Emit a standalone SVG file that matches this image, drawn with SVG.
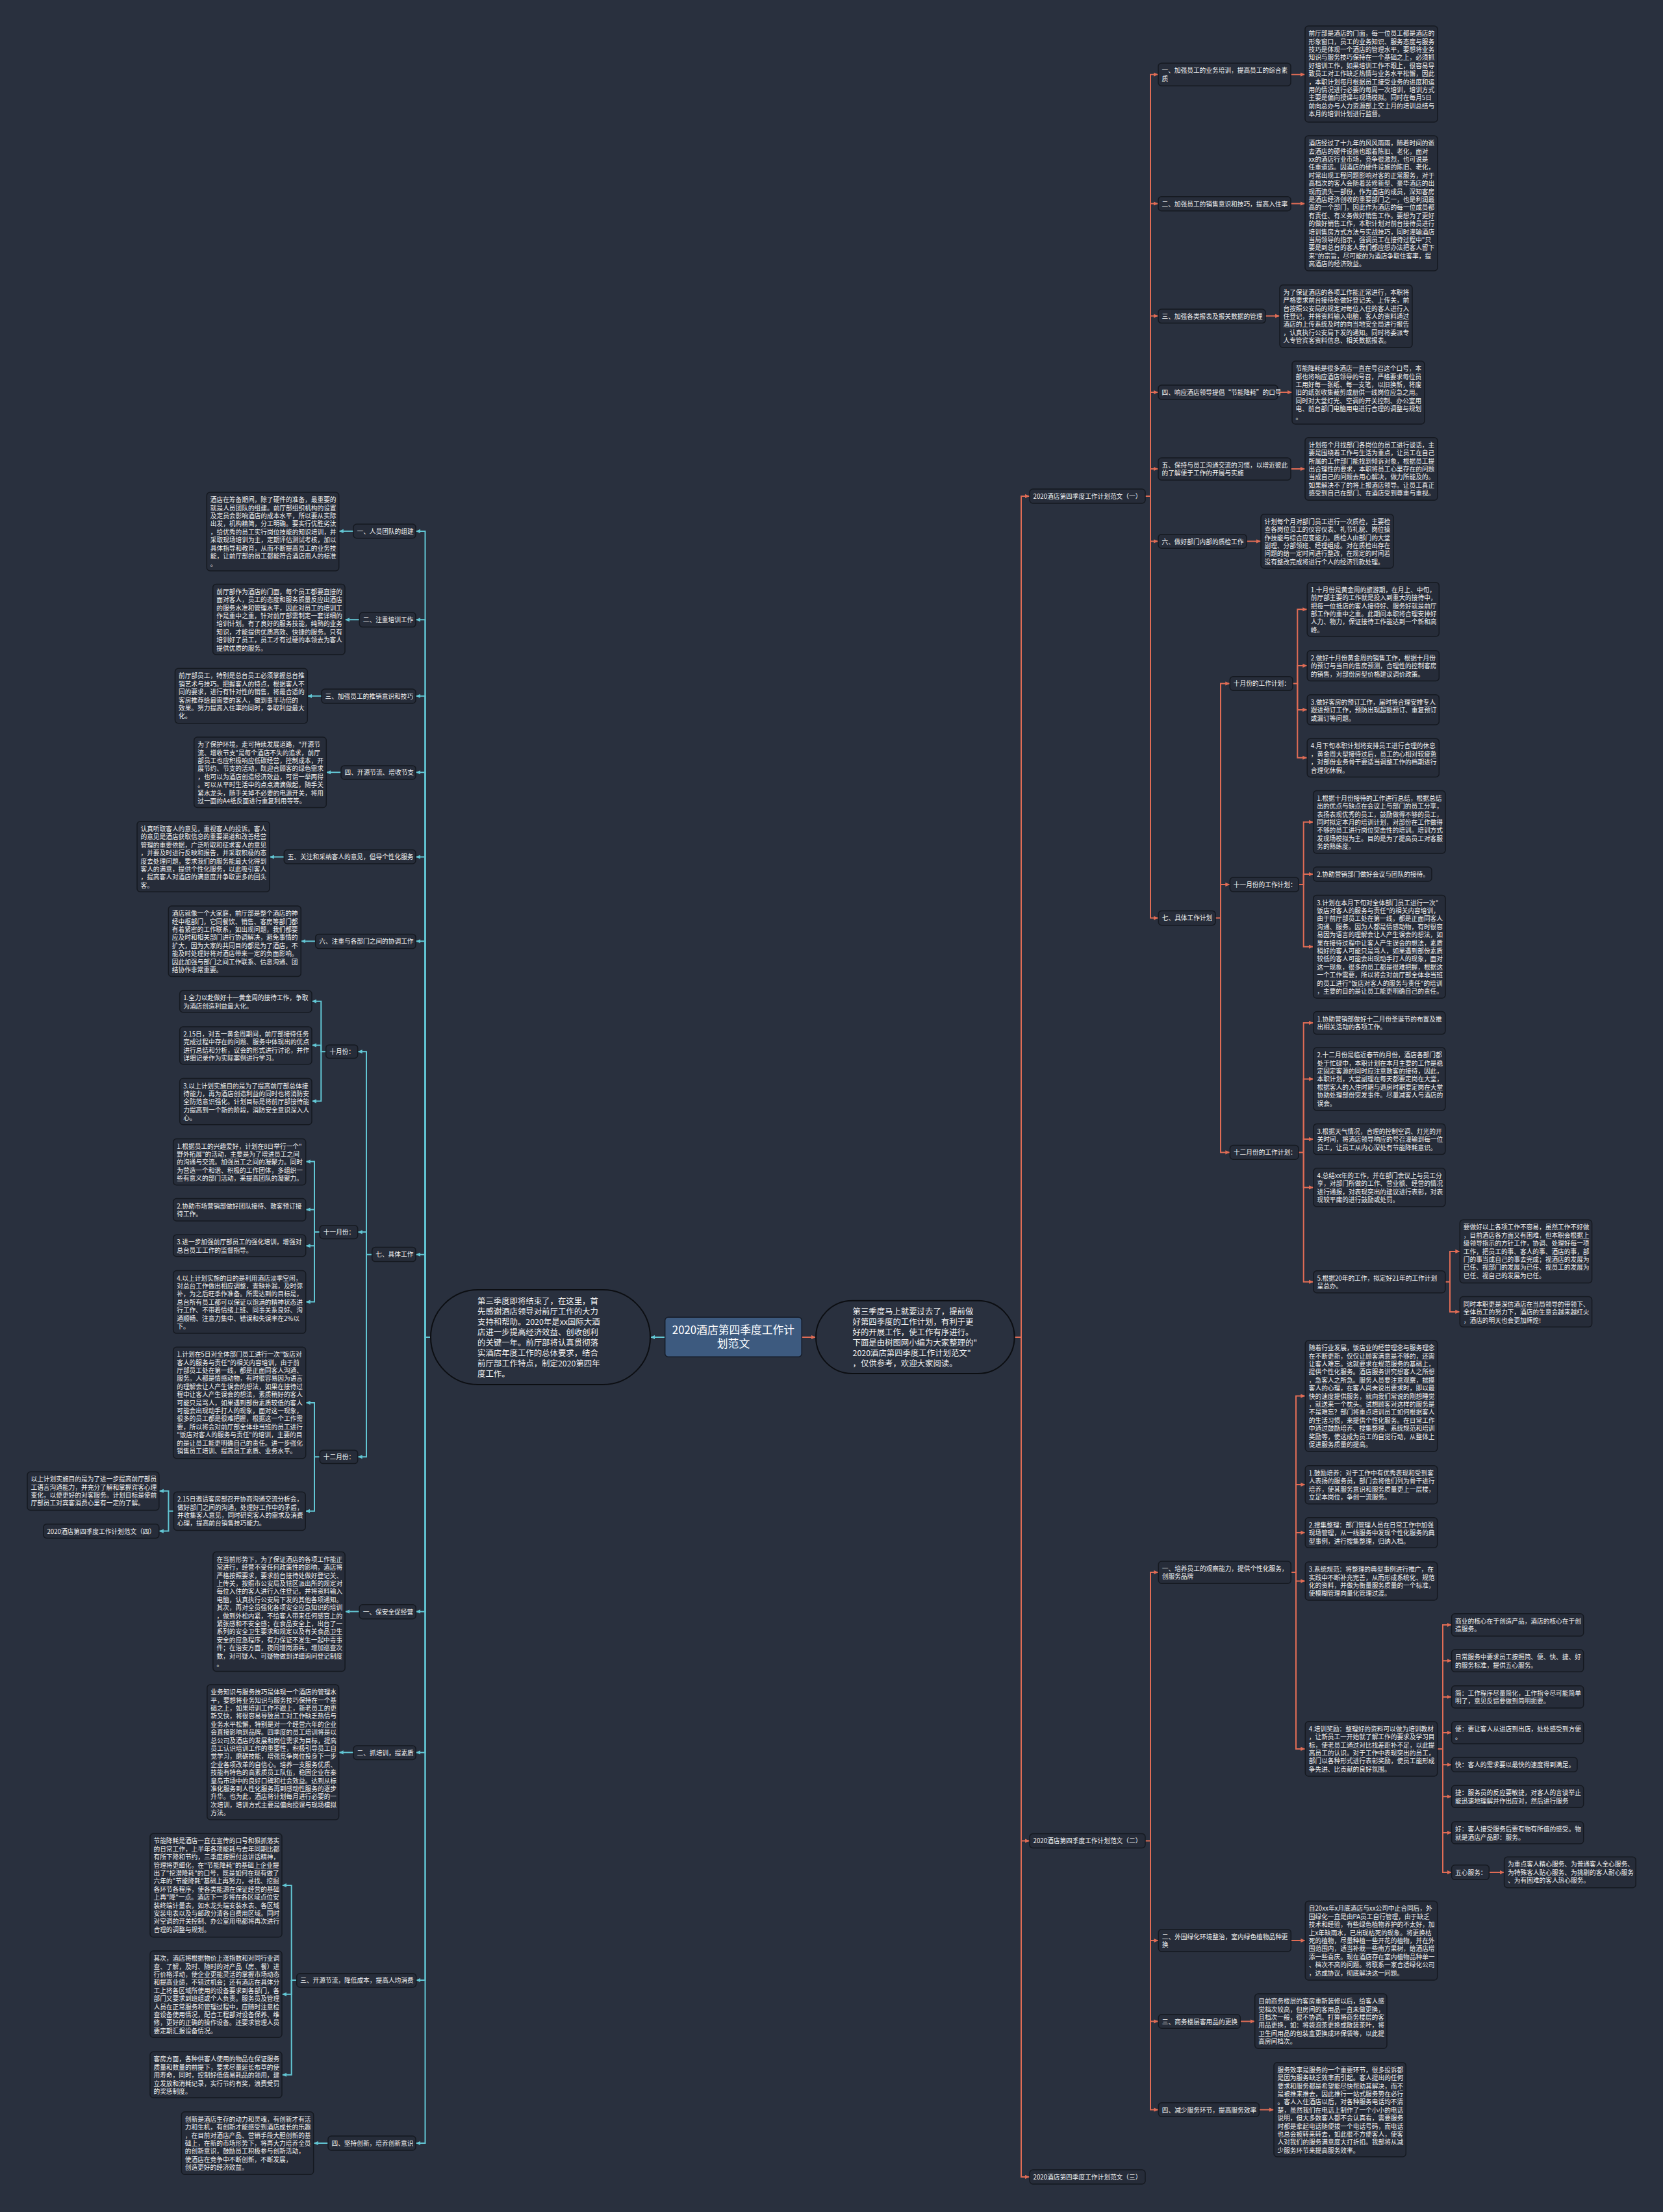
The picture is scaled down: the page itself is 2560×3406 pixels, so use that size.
<svg xmlns="http://www.w3.org/2000/svg" width="2560" height="3406" viewBox="0 0 2560 3406">
<defs>
<style>
.b{fill:#262c39;stroke:#151920;stroke-width:1.5}
.t{font-family:"Noto Sans CJK SC","Noto Sans CJK JP",sans-serif;font-size:9.7px;fill:#f2f2f2}
.bt{font-family:"Noto Sans CJK SC","Noto Sans CJK JP",sans-serif;font-size:12.4px;fill:#f2f2f2}
.o{fill:none;stroke:#e06c55;stroke-width:2;marker-end:url(#ao)}
.c{fill:none;stroke:#62c6d4;stroke-width:2;marker-end:url(#ac)}
.bub{fill:#29303e;stroke:#0c0e12;stroke-width:2}
</style>
<marker id="ao" viewBox="0 0 8 8" refX="8" refY="4" markerWidth="7" markerHeight="7" markerUnits="userSpaceOnUse" orient="auto"><path d="M0,0.5L8,4L0,7.5z" fill="#e06c55"/></marker>
<marker id="ac" viewBox="0 0 8 8" refX="8" refY="4" markerWidth="7" markerHeight="7" markerUnits="userSpaceOnUse" orient="auto"><path d="M0,0.5L8,4L0,7.5z" fill="#62c6d4"/></marker>
</defs>
<rect width="2560" height="3406" fill="#29303e"/>

<g id="connectors">
<path class="o" d="M1234.2,2059H1256"/>
<path class="c" d="M1023.7,2059H1001"/>
<path class="o" d="M1561.6,2059H1572V764H1585"/>
<path class="o" d="M1572,2059V2834.5H1585"/>
<path class="o" d="M1572,2059V3352H1585"/>
<path class="o" d="M1763,764H1771V114.8H1783"/>
<path class="o" d="M1771,764V313.5H1783"/>
<path class="o" d="M1771,764V486.5H1783"/>
<path class="o" d="M1771,764V604H1783"/>
<path class="o" d="M1771,764V722H1783"/>
<path class="o" d="M1771,764V833.5H1783"/>
<path class="o" d="M1771,764V1413.6H1783"/>
<path class="o" d="M1987,114.8H2009"/>
<path class="o" d="M1987,313.5H2009"/>
<path class="o" d="M1948,486.5H1970"/>
<path class="o" d="M1967,604H1989"/>
<path class="o" d="M1987,722H2009"/>
<path class="o" d="M1919,833.5H1941"/>
<path class="o" d="M1871,1413.6H1879V1052.5H1893.3"/>
<path class="o" d="M1879,1413.6V1362H1893.3"/>
<path class="o" d="M1879,1413.6V1774.4H1893.4"/>
<path class="o" d="M1990,1052.5H1997.3V938.3H2012.3"/>
<path class="o" d="M1997.3,1052.5V1025H2012.3"/>
<path class="o" d="M1997.3,1052.5V1092.9H2012.3"/>
<path class="o" d="M1997.3,1052.5V1166.8H2012.3"/>
<path class="o" d="M1999.3,1362H2006.7V1265.7H2021.7"/>
<path class="o" d="M2006.7,1362V1346H2021.7"/>
<path class="o" d="M2006.7,1362V1457.8H2021.7"/>
<path class="o" d="M1999,1774.4H2006.7V1575H2022"/>
<path class="o" d="M2006.7,1774.4V1661.4H2022"/>
<path class="o" d="M2006.7,1774.4V1754.1H2022"/>
<path class="o" d="M2006.7,1774.4V1828.4H2022"/>
<path class="o" d="M2006.7,1774.4V1973.8H2022"/>
<path class="o" d="M2224.8,1973.8H2232V1926.9H2247.3"/>
<path class="o" d="M2232,1973.8V2019.9H2247.3"/>
<path class="o" d="M1763,2834.5H1771V2421H1783.3"/>
<path class="o" d="M1771,2834.5V2988H1783.3"/>
<path class="o" d="M1771,2834.5V3112.5H1783.3"/>
<path class="o" d="M1771,2834.5V3248.5H1783.3"/>
<path class="o" d="M1987.3,2421H1995V2149.5H2009.3"/>
<path class="o" d="M1995,2421V2286H2009.3"/>
<path class="o" d="M1995,2421V2360H2009.3"/>
<path class="o" d="M1995,2421V2434.5H2009.3"/>
<path class="o" d="M1995,2421V2692.9H2009.3"/>
<path class="o" d="M2212.7,2692.9H2221V2502H2234.6"/>
<path class="o" d="M2221,2692.9V2557.2H2234.6"/>
<path class="o" d="M2221,2692.9V2612.9H2234.6"/>
<path class="o" d="M2221,2692.9V2667.9H2234.6"/>
<path class="o" d="M2221,2692.9V2717.2H2234.6"/>
<path class="o" d="M2221,2692.9V2766.3H2234.6"/>
<path class="o" d="M2221,2692.9V2822H2234.6"/>
<path class="o" d="M2221,2692.9V2883H2234.6"/>
<path class="o" d="M2292.3,2883H2315.6"/>
<path class="o" d="M1987.3,2988H2009.3"/>
<path class="o" d="M1909.3,3112.5H1931.7"/>
<path class="o" d="M1938.3,3248.5H1961"/>

<path class="c" d="M663,2059H654.5V817.9H640"/>
<path class="c" d="M654.5,2059V954.2H640"/>
<path class="c" d="M654.5,2059V1071.7H640"/>
<path class="c" d="M654.5,2059V1189.2H640"/>
<path class="c" d="M654.5,2059V1319.5H640"/>
<path class="c" d="M654.5,2059V1449.3H640"/>
<path class="c" d="M654.5,2059V1931.7H640"/>
<path class="c" d="M654.5,2059V2481.4H640"/>
<path class="c" d="M654.5,2059V2698.4H640"/>
<path class="c" d="M654.5,2059V3049H640"/>
<path class="c" d="M654.5,2059V3300H640"/>
<path class="c" d="M544,817.9H521.7"/>
<path class="c" d="M553.3,954.2H531"/>
<path class="c" d="M495,1071.7H473.3"/>
<path class="c" d="M525,1189.2H502.3"/>
<path class="c" d="M437.3,1319.5H415"/>
<path class="c" d="M485.7,1449.3H463.3"/>
<path class="c" d="M572.7,1931.7H564V1619.2H550.7"/>
<path class="c" d="M564,1931.7V1897.1H550.7"/>
<path class="c" d="M564,1931.7V2243.2H550.7"/>
<path class="c" d="M501.7,1619.2H494.3V1541.7H480"/>
<path class="c" d="M494.3,1619.2V1609.4H480"/>
<path class="c" d="M494.3,1619.2V1695.6H480"/>
<path class="c" d="M492.3,1897.1H484V1788.6H470.7"/>
<path class="c" d="M484,1897.1V1862.5H470.7"/>
<path class="c" d="M484,1897.1V1918.3H470.7"/>
<path class="c" d="M484,1897.1V2004.6H470.7"/>
<path class="c" d="M492.3,2243.2H484V2160H470.7"/>
<path class="c" d="M484,2243.2V2326.8H470.2"/>
<path class="c" d="M267.4,2326.8H259.4V2295.8H244.8"/>
<path class="c" d="M259.4,2326.8V2357.6H244.8"/>
<path class="c" d="M553.2,2481.4H531.1"/>
<path class="c" d="M544.1,2698.4H521.6"/>
<path class="c" d="M456.7,3049H448.7V2903H434"/>
<path class="c" d="M448.7,3049V3070.7H434"/>
<path class="c" d="M448.7,3049V3194.7H434"/>
<path class="c" d="M505,3300H482.7"/>
</g>

<g id="center">
<rect x="1023.7" y="2028.3" width="210.5" height="61" rx="5" fill="#3d5a7f" stroke="#151b26" stroke-width="1.5"/>
<text x="1129" y="2054" text-anchor="middle" font-family="Noto Sans CJK SC, sans-serif" font-size="16.8" fill="#ffffff"><tspan x="1129">2020酒店第四季度工作计</tspan><tspan x="1129" dy="21.3">划范文</tspan></text>
</g>

<g id="intro-left">
<rect class="bub" x="663" y="1986" width="338" height="146" rx="73"/>
<text class="bt" y="2007.5"><tspan x="735">第三季度即将结束了，在这里，首</tspan><tspan x="735" dy="16">先感谢酒店领导对前厅工作的大力</tspan><tspan x="735" dy="16">支持和帮助。2020年是xx国际大酒</tspan><tspan x="735" dy="16">店进一步提高经济效益、创收创利</tspan><tspan x="735" dy="16">的关键一年。前厅部将认真贯彻落</tspan><tspan x="735" dy="16">实酒店年度工作的总体要求，结合</tspan><tspan x="735" dy="16">前厅部工作特点，制定2020第四年</tspan><tspan x="735" dy="16">度工作。</tspan></text>
</g>

<g id="intro-right">
<rect class="bub" x="1256" y="2002.7" width="305.6" height="112.3" rx="56"/>
<text class="bt" y="2023.5"><tspan x="1312.5">第三季度马上就要过去了，提前做</tspan><tspan x="1312.5" dy="16">好第四季度的工作计划，有利于更</tspan><tspan x="1312.5" dy="16">好的开展工作，使工作有序进行。</tspan><tspan x="1312.5" dy="16">下面是由树图网小编为大家整理的"</tspan><tspan x="1312.5" dy="16">2020酒店第四季度工作计划范文"</tspan><tspan x="1312.5" dy="16">，仅供参考，欢迎大家阅读。</tspan></text>
</g>

<!-- Right (一) -->
<g id="p1" transform="translate(1585,753)"><rect class="b" width="178" height="22" rx="5"/><text class="t" y="14.9"><tspan x="5.5">2020酒店第四季度工作计划范文（一）</tspan></text></g>
<g id="r1" transform="translate(1783,97.3)"><rect class="b" width="204" height="35" rx="5"/><text class="t" y="15.2"><tspan x="5.5">一、加强员工的业务培训，提高员工的综合素</tspan><tspan x="5.5" dy="12.2">质</tspan></text></g>
<g id="r1b" transform="translate(2009,40)"><rect class="b" width="204" height="148" rx="5"/><text class="t" y="15.2"><tspan x="5.5">前厅部是酒店的门面，每一位员工都是酒店的</tspan><tspan x="5.5" dy="12.4">形象窗口，员工的业务知识、服务态度与服务</tspan><tspan x="5.5" dy="12.4">技巧是体现一个酒店的管理水平，要想将业务</tspan><tspan x="5.5" dy="12.4">知识与服务技巧保持在一个基础之上，必须抓</tspan><tspan x="5.5" dy="12.4">好培训工作，如果培训工作不跟上，很容易导</tspan><tspan x="5.5" dy="12.4">致员工对工作缺乏热情与业务水平松懈，因此</tspan><tspan x="5.5" dy="12.4">，本职计划每月根据员工接受业务的进度和运</tspan><tspan x="5.5" dy="12.4">用的情况进行必要的每周一次培训，培训方式</tspan><tspan x="5.5" dy="12.4">主要是偏向授课与现场模拟。同时在每月5日</tspan><tspan x="5.5" dy="12.4">前向总办与人力资源部上交上月的培训总结与</tspan><tspan x="5.5" dy="12.4">本月的培训计划进行监督。</tspan></text></g>
<g id="r2" transform="translate(1783,302.7)"><rect class="b" width="204" height="22" rx="5"/><text class="t" y="14.9"><tspan x="5.5">二、加强员工的销售意识和技巧，提高入住率</tspan></text></g>
<g id="r2b" transform="translate(2009,209)"><rect class="b" width="204" height="208" rx="5"/><text class="t" y="15.2"><tspan x="5.5">酒店经过了十九年的风风雨雨，随着时间的逝</tspan><tspan x="5.5" dy="12.4">去酒店的硬件设施也跟着陈旧、老化，面对</tspan><tspan x="5.5" dy="12.4">xx的酒店行业市场，竞争很激烈，也可说是</tspan><tspan x="5.5" dy="12.4">任重道远。因酒店的硬件设施的陈旧、老化，</tspan><tspan x="5.5" dy="12.4">时常出现工程问题影响对客的正常服务，对于</tspan><tspan x="5.5" dy="12.4">高档次的客人会随着装修新型、豪华酒店的出</tspan><tspan x="5.5" dy="12.4">现而流失一部份，作为酒店的成员，深知客房</tspan><tspan x="5.5" dy="12.4">是酒店经济创收的重要部门之一，也是利润最</tspan><tspan x="5.5" dy="12.4">高的一个部门，因此作为酒店的每一位成员都</tspan><tspan x="5.5" dy="12.4">有责任、有义务做好销售工作。要想为了更好</tspan><tspan x="5.5" dy="12.4">的做好销售工作，本职计划对前台接待员进行</tspan><tspan x="5.5" dy="12.4">培训售房方式方法与实战技巧，同时灌输酒店</tspan><tspan x="5.5" dy="12.4">当局领导的指示，强调员工在接待过程中"只</tspan><tspan x="5.5" dy="12.4">要是到总台的客人我们都应想办法把客人留下</tspan><tspan x="5.5" dy="12.4">来"的宗旨，尽可能的为酒店争取住客率，提</tspan><tspan x="5.5" dy="12.4">高酒店的经济效益。</tspan></text></g>
<g id="r3" transform="translate(1783,476)"><rect class="b" width="165" height="21.6" rx="5"/><text class="t" y="14.9"><tspan x="5.5">三、加强各类报表及报关数据的管理</tspan></text></g>
<g id="r3b" transform="translate(1970,438.7)"><rect class="b" width="204" height="96.6" rx="5"/><text class="t" y="15.2"><tspan x="5.5">为了保证酒店的各项工作能正常进行，本职将</tspan><tspan x="5.5" dy="12.4">严格要求前台接待处做好登记关、上传关，前</tspan><tspan x="5.5" dy="12.4">台按照公安局的规定对每位入住的客人进行入</tspan><tspan x="5.5" dy="12.4">住登记，并将资料输入电脑，客人的资料通过</tspan><tspan x="5.5" dy="12.4">酒店的上传系统及时的向当地安全局进行报告</tspan><tspan x="5.5" dy="12.4">，认真执行公安局下发的通知。同时将委派专</tspan><tspan x="5.5" dy="12.4">人专管宾客资料信息、相关数据报表。</tspan></text></g>
<g id="r4" transform="translate(1783,593)"><rect class="b" width="184" height="22" rx="5"/><text class="t" y="14.9"><tspan x="5.5">四、响应酒店领导提倡“节能降耗”的口号</tspan></text></g>
<g id="r4b" transform="translate(1989,556)"><rect class="b" width="204" height="97" rx="5"/><text class="t" y="15.2"><tspan x="5.5">节能降耗是很多酒店一直在号召这个口号，本</tspan><tspan x="5.5" dy="12.4">部也将响应酒店领导的号召，严格要求每位员</tspan><tspan x="5.5" dy="12.4">工用好每一张纸、每一支笔，以旧换新，将废</tspan><tspan x="5.5" dy="12.4">旧的纸张收集裁剪成册供一线岗位应急之用。</tspan><tspan x="5.5" dy="12.4">同时对大堂灯光、空调的开关控制、办公室用</tspan><tspan x="5.5" dy="12.4">电、前台部门电脑用电进行合理的调整与规划</tspan><tspan x="5.5" dy="12.4">。</tspan></text></g>
<g id="r5" transform="translate(1783,705)"><rect class="b" width="204" height="34.3" rx="5"/><text class="t" y="15.2"><tspan x="5.5">五、保持与员工沟通交流的习惯，以增近彼此</tspan><tspan x="5.5" dy="12.2">的了解便于工作的开展与实施</tspan></text></g>
<g id="r5b" transform="translate(2009,673.7)"><rect class="b" width="204" height="96.6" rx="5"/><text class="t" y="15.2"><tspan x="5.5">计划每个月找部门各岗位的员工进行谈话，主</tspan><tspan x="5.5" dy="12.4">要是围绕着工作与生活为重点，让员工在自己</tspan><tspan x="5.5" dy="12.4">所属的工作部门能找到倾诉对象，根据员工提</tspan><tspan x="5.5" dy="12.4">出合理性的要求，本职将员工心里存在的问题</tspan><tspan x="5.5" dy="12.4">当成自己的问题去用心解决，做力所能及的。</tspan><tspan x="5.5" dy="12.4">如果解决不了的将上报酒店领导。让员工真正</tspan><tspan x="5.5" dy="12.4">感受到自己在部门、在酒店受到尊重与重视。</tspan></text></g>
<g id="r6" transform="translate(1783,822.7)"><rect class="b" width="136" height="21.6" rx="5"/><text class="t" y="14.9"><tspan x="5.5">六、做好部门内部的质检工作</tspan></text></g>
<g id="r6b" transform="translate(1941,791.7)"><rect class="b" width="204" height="83.3" rx="5"/><text class="t" y="15.2"><tspan x="5.5">计划每个月对部门员工进行一次质检，主要检</tspan><tspan x="5.5" dy="12.4">查各岗位员工的仪容仪表、礼节礼貌、岗位操</tspan><tspan x="5.5" dy="12.4">作技能与综合应变能力。质检人由部门的大堂</tspan><tspan x="5.5" dy="12.4">副理、分部领班、经理组成。对在质检出存在</tspan><tspan x="5.5" dy="12.4">问题的给一定时间进行整改，在规定的时间若</tspan><tspan x="5.5" dy="12.4">没有整改完成将进行个人的经济罚款处理。</tspan></text></g>
<g id="r7" transform="translate(1783.3,1402.4)"><rect class="b" width="87.7" height="22.3" rx="5"/><text class="t" y="15"><tspan x="5.5">七、具体工作计划</tspan></text></g>
<g id="r7-10" transform="translate(1893.3,1041.7)"><rect class="b" width="96.7" height="21.5" rx="5"/><text class="t" y="14.8"><tspan x="5.5">十月份的工作计划：</tspan></text></g>
<g id="r7-10a" transform="translate(2012.3,896.7)"><rect class="b" width="203" height="83.2" rx="5"/><text class="t" y="15.2"><tspan x="5.5">1.十月份是黄金周的旅游期，在月上、中旬，</tspan><tspan x="5.5" dy="12.4">前厅部主要的工作就是投入到重大的接待中，</tspan><tspan x="5.5" dy="12.4">把每一位抵店的客人接待好、服务好就是前厅</tspan><tspan x="5.5" dy="12.4">部工作的重中之重。此期间本职将合理安排好</tspan><tspan x="5.5" dy="12.4">人力、物力，保证接待工作能达到一个新和高</tspan><tspan x="5.5" dy="12.4">峰。</tspan></text></g>
<g id="r7-10b" transform="translate(2012.3,1001.7)"><rect class="b" width="203" height="46.7" rx="5"/><text class="t" y="15.2"><tspan x="5.5">2.做好十月份黄金周的销售工作，根据十月份</tspan><tspan x="5.5" dy="12.4">的预订与当日的售房预测，合理性的控制客房</tspan><tspan x="5.5" dy="12.4">的销售，对部份房型价格建议调价政策。</tspan></text></g>
<g id="r7-10c" transform="translate(2012.3,1069.8)"><rect class="b" width="203" height="46.2" rx="5"/><text class="t" y="15.2"><tspan x="5.5">3.做好客房的预订工作，届时将合理安排专人</tspan><tspan x="5.5" dy="12.4">跟进预订工作，预防出现超额预订、重复预订</tspan><tspan x="5.5" dy="12.4">或漏订等问题。</tspan></text></g>
<g id="r7-10d" transform="translate(2012.3,1137.2)"><rect class="b" width="203" height="59.2" rx="5"/><text class="t" y="15.2"><tspan x="5.5">4.月下旬本职计划将安排员工进行合理的休息</tspan><tspan x="5.5" dy="12.4">，黄金周大型接待过后，员工的心相对较疲惫</tspan><tspan x="5.5" dy="12.4">，对部份业务骨干要适当调整工作的档期进行</tspan><tspan x="5.5" dy="12.4">合理化休假。</tspan></text></g>
<g id="r7-11" transform="translate(1893.3,1351)"><rect class="b" width="106" height="21.9" rx="5"/><text class="t" y="14.9"><tspan x="5.5">十一月份的工作计划：</tspan></text></g>
<g id="r7-11a" transform="translate(2021.7,1217.5)"><rect class="b" width="203.3" height="96.5" rx="5"/><text class="t" y="15.2"><tspan x="5.5">1.根据十月份接待的工作进行总结，根据总结</tspan><tspan x="5.5" dy="12.4">出的优点与缺点在会议上与部门的员工分享，</tspan><tspan x="5.5" dy="12.4">表扬表现优秀的员工，鼓励做得不够的员工，</tspan><tspan x="5.5" dy="12.4">同时拟定本月的培训计划，对部份在工作做得</tspan><tspan x="5.5" dy="12.4">不够的员工进行岗位突击性的培训。培训方式</tspan><tspan x="5.5" dy="12.4">发现场模拟为主。目的是为了提高员工对客服</tspan><tspan x="5.5" dy="12.4">务的熟练度。</tspan></text></g>
<g id="r7-11b" transform="translate(2021.7,1335.1)"><rect class="b" width="182.3" height="21.9" rx="5"/><text class="t" y="14.9"><tspan x="5.5">2.协助营销部门做好会议与团队的接待。</tspan></text></g>
<g id="r7-11c" transform="translate(2021.7,1378.4)"><rect class="b" width="203.3" height="158.6" rx="5"/><text class="t" y="15.2"><tspan x="5.5">3.计划在本月下旬对全体部门员工进行一次"</tspan><tspan x="5.5" dy="12.4">饭店对客人的服务与责任"的相关内容培训，</tspan><tspan x="5.5" dy="12.4">由于前厅部员工处在第一线，都是正面同客人</tspan><tspan x="5.5" dy="12.4">沟通、服务。因为人都是情感动物，有时很容</tspan><tspan x="5.5" dy="12.4">易因为语言的理解会让人产生误会的想法，如</tspan><tspan x="5.5" dy="12.4">果在接待过程中让客人产生误会的想法，素质</tspan><tspan x="5.5" dy="12.4">稍好的客人可能只是骂人，如果遇到部份素质</tspan><tspan x="5.5" dy="12.4">较低的客人可能会出现动手打人的现象，面对</tspan><tspan x="5.5" dy="12.4">这一现象，很多的员工都是很难把握，根据这</tspan><tspan x="5.5" dy="12.4">一个工作需要，所以将会对前厅部全体非当班</tspan><tspan x="5.5" dy="12.4">的员工进行"饭店对客人的服务与责任"的培训</tspan><tspan x="5.5" dy="12.4">，主要的目的是让员工能更明确自己的责任。</tspan></text></g>
<g id="r7-12" transform="translate(1893.4,1763.5)"><rect class="b" width="105.6" height="21.8" rx="5"/><text class="t" y="14.9"><tspan x="5.5">十二月份的工作计划：</tspan></text></g>
<g id="r7-12a" transform="translate(2022,1557.6)"><rect class="b" width="202.8" height="34.8" rx="5"/><text class="t" y="15.2"><tspan x="5.5">1.协助营销部做好十二月份圣诞节的布置及推</tspan><tspan x="5.5" dy="12.4">出相关活动的各项工作。</tspan></text></g>
<g id="r7-12b" transform="translate(2022,1613)"><rect class="b" width="202.8" height="97" rx="5"/><text class="t" y="15.2"><tspan x="5.5">2.十二月份是临近春节的月份，酒店各部门都</tspan><tspan x="5.5" dy="12.4">处于忙碌中，本职计划在本月主要的工作是稳</tspan><tspan x="5.5" dy="12.4">定固定客源的同时应注意散客的接待，因此，</tspan><tspan x="5.5" dy="12.4">本职计划，大堂副理在每天都要定岗在大堂，</tspan><tspan x="5.5" dy="12.4">根据客人的入住时期与退房时期要定岗在大堂</tspan><tspan x="5.5" dy="12.4">协助处理部份突发事件。尽量减客人与酒店的</tspan><tspan x="5.5" dy="12.4">误会。</tspan></text></g>
<g id="r7-12c" transform="translate(2022,1730.6)"><rect class="b" width="202.8" height="47" rx="5"/><text class="t" y="15.2"><tspan x="5.5">3.根据天气情况，合理的控制空调、灯光的开</tspan><tspan x="5.5" dy="12.4">关时间，将酒店领导响应的号召灌输到每一位</tspan><tspan x="5.5" dy="12.4">员工，让员工从内心深处有节能降耗意识。</tspan></text></g>
<g id="r7-12d" transform="translate(2022,1798.7)"><rect class="b" width="202.8" height="59.3" rx="5"/><text class="t" y="15.2"><tspan x="5.5">4.总结xx年的工作，并在部门会议上与员工分</tspan><tspan x="5.5" dy="12.4">享，对部门所做的工作、营业额、经营的情况</tspan><tspan x="5.5" dy="12.4">进行通报，对表现突出的建议进行表彰，对表</tspan><tspan x="5.5" dy="12.4">现较平庸的进行鼓励或处罚。</tspan></text></g>
<g id="r7-12e" transform="translate(2022,1956.7)"><rect class="b" width="202.8" height="34.1" rx="5"/><text class="t" y="15.2"><tspan x="5.5">5.根据20年的工作，拟定好21年的工作计划</tspan><tspan x="5.5" dy="12.4">呈总办。</tspan></text></g>
<g id="r7-12e1" transform="translate(2247.3,1878.3)"><rect class="b" width="203.3" height="97.2" rx="5"/><text class="t" y="15.2"><tspan x="5.5">要做好以上各项工作不容易，虽然工作不好做</tspan><tspan x="5.5" dy="12.4">，目前酒店各方面又有困难，但本职会根据上</tspan><tspan x="5.5" dy="12.4">级领导指示的方针工作，协调、处理好每一项</tspan><tspan x="5.5" dy="12.4">工作，把员工的事、客人的事、酒店的事，部</tspan><tspan x="5.5" dy="12.4">门的事当成自己的事去完成；视酒店的发展为</tspan><tspan x="5.5" dy="12.4">已任、视部门的发展为已任、视员工的发展为</tspan><tspan x="5.5" dy="12.4">已任、视自己的发展为已任。</tspan></text></g>
<g id="r7-12e2" transform="translate(2247.3,1996.5)"><rect class="b" width="203.3" height="46.7" rx="5"/><text class="t" y="15.2"><tspan x="5.5">同时本职更是深信酒店在当局领导的带领下、</tspan><tspan x="5.5" dy="12.4">全体员工的努力下，酒店的生意会越来越红火</tspan><tspan x="5.5" dy="12.4">，酒店的明天也会更加辉煌!</tspan></text></g>

<!-- Right (二) -->
<g id="p2" transform="translate(1585,2823.5)"><rect class="b" width="178" height="22" rx="5"/><text class="t" y="14.9"><tspan x="5.5">2020酒店第四季度工作计划范文（二）</tspan></text></g>
<g id="s1" transform="translate(1783.3,2404)"><rect class="b" width="204" height="34.3" rx="5"/><text class="t" y="15.2"><tspan x="5.5">一、培养员工的观察能力，提供个性化服务，</tspan><tspan x="5.5" dy="12.2">创服务品牌</tspan></text></g>
<g id="s1a" transform="translate(2009.3,2064)"><rect class="b" width="203.4" height="171" rx="5"/><text class="t" y="15.2"><tspan x="5.5">随着行业发展，饭店业的经营理念与服务理念</tspan><tspan x="5.5" dy="12.4">在不断更新，仅仅让顾客满意是不够的，还需</tspan><tspan x="5.5" dy="12.4">让客人难忘。这就要求在规范服务的基础上，</tspan><tspan x="5.5" dy="12.4">提供个性化服务。酒店服务讲究想客人之所想</tspan><tspan x="5.5" dy="12.4">，急客人之所急。服务人员要注意观察，揣摸</tspan><tspan x="5.5" dy="12.4">客人的心理，在客人尚未说出要求时，即以最</tspan><tspan x="5.5" dy="12.4">快的速度提供服务，就向我们常说的刚想睡觉</tspan><tspan x="5.5" dy="12.4">，就送来一个枕头。试想顾客对这样的服务是</tspan><tspan x="5.5" dy="12.4">不是难忘？部门将重点培训员工如何根据客人</tspan><tspan x="5.5" dy="12.4">的生活习惯，来提供个性化服务。在日常工作</tspan><tspan x="5.5" dy="12.4">中通过鼓励培养、搜集整理、系统规范和培训</tspan><tspan x="5.5" dy="12.4">奖励等，使这成为员工的自觉行动，从整体上</tspan><tspan x="5.5" dy="12.4">促进服务质量的提高。</tspan></text></g>
<g id="s1b" transform="translate(2009.3,2256.7)"><rect class="b" width="203.4" height="59" rx="5"/><text class="t" y="15.2"><tspan x="5.5">1.鼓励培养：对于工作中有优秀表现和受到客</tspan><tspan x="5.5" dy="12.4">人表扬的服务员，部门会将他们列为骨干进行</tspan><tspan x="5.5" dy="12.4">培养，使其服务意识和服务质量更上一层楼，</tspan><tspan x="5.5" dy="12.4">立足本岗位，争创一流服务。</tspan></text></g>
<g id="s1c" transform="translate(2009.3,2336.7)"><rect class="b" width="203.4" height="46.6" rx="5"/><text class="t" y="15.2"><tspan x="5.5">2.搜集整理：部门管理人员在日常工作中加强</tspan><tspan x="5.5" dy="12.4">现场管理，从一线服务中发现个性化服务的典</tspan><tspan x="5.5" dy="12.4">型事例，进行搜集整理，归纳入档。</tspan></text></g>
<g id="s1d" transform="translate(2009.3,2405)"><rect class="b" width="203.4" height="59" rx="5"/><text class="t" y="15.2"><tspan x="5.5">3.系统规范：将整理的典型事例进行推广，在</tspan><tspan x="5.5" dy="12.4">实践中不断补充完善，从而形成系统化、规范</tspan><tspan x="5.5" dy="12.4">化的资料，并做为衡量服务质量的一个标准，</tspan><tspan x="5.5" dy="12.4">使模糊管理向量化管理过渡。</tspan></text></g>
<g id="s1e" transform="translate(2009.3,2650.7)"><rect class="b" width="203.4" height="84.3" rx="5"/><text class="t" y="15.2"><tspan x="5.5">4.培训奖励：整理好的资料可以做为培训教材</tspan><tspan x="5.5" dy="12.4">，让新员工一开始就了解工作的要求及学习目</tspan><tspan x="5.5" dy="12.4">标，使老员工通过对比找差距补不足，以此提</tspan><tspan x="5.5" dy="12.4">高员工的认识。对于工作中表现突出的员工，</tspan><tspan x="5.5" dy="12.4">部门以各种形式进行表彰奖励，使员工能形成</tspan><tspan x="5.5" dy="12.4">争先进、比贡献的良好氛围。</tspan></text></g>
<g id="s1e1" transform="translate(2234.6,2484.7)"><rect class="b" width="203.1" height="34.6" rx="5"/><text class="t" y="15.2"><tspan x="5.5">商业的核心在于创造产品，酒店的核心在于创</tspan><tspan x="5.5" dy="12.4">造服务。</tspan></text></g>
<g id="s1e2" transform="translate(2234.6,2540)"><rect class="b" width="203.1" height="34.3" rx="5"/><text class="t" y="15.2"><tspan x="5.5">日常服务中要求员工按照简、便、快、捷、好</tspan><tspan x="5.5" dy="12.4">的服务标准，提供五心服务。</tspan></text></g>
<g id="s1e3" transform="translate(2234.6,2595.7)"><rect class="b" width="203.1" height="34.3" rx="5"/><text class="t" y="15.2"><tspan x="5.5">简：工作程序尽量简化，工作指令尽可能简单</tspan><tspan x="5.5" dy="12.4">明了，意见反馈要做到简明扼要。</tspan></text></g>
<g id="s1e4" transform="translate(2234.6,2650.7)"><rect class="b" width="203.1" height="34.3" rx="5"/><text class="t" y="15.2"><tspan x="5.5">便：要让客人从进店到出店，处处感受到方便</tspan><tspan x="5.5" dy="12.4">。</tspan></text></g>
<g id="s1e5" transform="translate(2234.6,2706)"><rect class="b" width="193.4" height="22.3" rx="5"/><text class="t" y="15"><tspan x="5.5">快：客人的需求要以最快的速度得到满足。</tspan></text></g>
<g id="s1e6" transform="translate(2234.6,2749.3)"><rect class="b" width="203.1" height="34" rx="5"/><text class="t" y="15.2"><tspan x="5.5">捷：服务员的反应要敏捷，对客人的言谈举止</tspan><tspan x="5.5" dy="12.4">能迅速地理解并作出应对，然后进行服务</tspan></text></g>
<g id="s1e7" transform="translate(2234.6,2805)"><rect class="b" width="203.1" height="34" rx="5"/><text class="t" y="15.2"><tspan x="5.5">好：客人接受服务后要有物有所值的感受。物</tspan><tspan x="5.5" dy="12.4">就是酒店产品即：服务。</tspan></text></g>
<g id="s1e8" transform="translate(2234.6,2871.7)"><rect class="b" width="57.7" height="22.6" rx="5"/><text class="t" y="15.1"><tspan x="5.5">五心服务：</tspan></text></g>
<g id="s1e8a" transform="translate(2315.6,2859.3)"><rect class="b" width="202.6" height="47.4" rx="5"/><text class="t" y="15.2"><tspan x="5.5">为重点客人精心服务、为普通客人全心服务、</tspan><tspan x="5.5" dy="12.4">为特殊客人贴心服务、为挑剔的客人耐心服务</tspan><tspan x="5.5" dy="12.4">、为有困难的客人热心服务。</tspan></text></g>
<g id="s2" transform="translate(1783.3,2970.7)"><rect class="b" width="204" height="34.3" rx="5"/><text class="t" y="15.2"><tspan x="5.5">二、外围绿化环境整治，室内绿色植物品种更</tspan><tspan x="5.5" dy="12.2">换</tspan></text></g>
<g id="s2a" transform="translate(2009.3,2927.3)"><rect class="b" width="203.4" height="121.7" rx="5"/><text class="t" y="15.2"><tspan x="5.5">自20xx年x月底酒店与xx公司中止合同后，外</tspan><tspan x="5.5" dy="12.4">围绿化一直是由PA员工自行管理，由于缺乏</tspan><tspan x="5.5" dy="12.4">技术和经验，有些绿色植物养护的不太好，加</tspan><tspan x="5.5" dy="12.4">上x年缺雨水，已出现枯死的现象。将更换枯</tspan><tspan x="5.5" dy="12.4">死的植物，尽量种植一些开花的植物，并在外</tspan><tspan x="5.5" dy="12.4">围范围内，适当补栽一些南方果树，给酒店增</tspan><tspan x="5.5" dy="12.4">添一些喜庆。现在酒店存在室内植物品种单一</tspan><tspan x="5.5" dy="12.4">、档次不高的问题。将联系一家合适绿化公司</tspan><tspan x="5.5" dy="12.4">，达成协议，彻底解决这一问题。</tspan></text></g>
<g id="s3" transform="translate(1783.3,3101.7)"><rect class="b" width="126" height="21.6" rx="5"/><text class="t" y="14.9"><tspan x="5.5">三、商务楼层客用品的更换</tspan></text></g>
<g id="s3a" transform="translate(1931.7,3070)"><rect class="b" width="203.3" height="84.3" rx="5"/><text class="t" y="15.2"><tspan x="5.5">目前商务楼层的客房重新装修以后，给客人感</tspan><tspan x="5.5" dy="12.4">觉档次较高，但房间的客用品一直未做更换，</tspan><tspan x="5.5" dy="12.4">且档次一般，很不协调。打算将商务楼层的客</tspan><tspan x="5.5" dy="12.4">用品更换，如：将袋泡茶更换成散装茶叶，将</tspan><tspan x="5.5" dy="12.4">卫生间用品的包装盒更换成环保袋等，以此提</tspan><tspan x="5.5" dy="12.4">高房间档次。</tspan></text></g>
<g id="s4" transform="translate(1783.3,3237.7)"><rect class="b" width="155" height="21.6" rx="5"/><text class="t" y="14.9"><tspan x="5.5">四、减少服务环节，提高服务效率</tspan></text></g>
<g id="s4a" transform="translate(1961,3175.7)"><rect class="b" width="203.3" height="145.3" rx="5"/><text class="t" y="15.2"><tspan x="5.5">服务效率是服务的一个重要环节，很多投诉都</tspan><tspan x="5.5" dy="12.4">是因为服务缺乏效率而引起。客人提出的任何</tspan><tspan x="5.5" dy="12.4">要求和服务都是希望能尽快帮助其解决，而不</tspan><tspan x="5.5" dy="12.4">是被推来推去，因此推行一站式服务势在必行</tspan><tspan x="5.5" dy="12.4">。客人入住酒店以后，对各种服务电话均不清</tspan><tspan x="5.5" dy="12.4">楚，虽然我们在电话上制作了一个小小的电话</tspan><tspan x="5.5" dy="12.4">说明，但大多数客人都不会认真看，需要服务</tspan><tspan x="5.5" dy="12.4">时都是拿起电话随便拨一个电话号码，而电话</tspan><tspan x="5.5" dy="12.4">也总会被转来转去，如此很不方便客人，使客</tspan><tspan x="5.5" dy="12.4">人对我们的服务满意度大打折扣。我部将从减</tspan><tspan x="5.5" dy="12.4">少服务环节来提高服务效率。</tspan></text></g>
<g id="p3" transform="translate(1585,3341)"><rect class="b" width="178" height="22" rx="5"/><text class="t" y="14.9"><tspan x="5.5">2020酒店第四季度工作计划范文（三）</tspan></text></g>

<!-- Left side -->
<g id="l1" transform="translate(544,807)"><rect class="b" width="96" height="21.7" rx="5"/><text class="t" y="14.9"><tspan x="5.5">一、人员团队的组建</tspan></text></g>
<g id="l1a" transform="translate(318.3,758)"><rect class="b" width="203.4" height="121" rx="5"/><text class="t" y="15.2"><tspan x="5.5">酒店在筹备期间，除了硬件的准备，最重要的</tspan><tspan x="5.5" dy="12.4">就是人员团队的组建。前厅部组织机构的设置</tspan><tspan x="5.5" dy="12.4">及定员会影响酒店的成本水平，所以要从实际</tspan><tspan x="5.5" dy="12.4">出发，机构精简，分工明确。要实行优胜劣汰</tspan><tspan x="5.5" dy="12.4">，给优秀的员工实行岗位技能的知识培训，并</tspan><tspan x="5.5" dy="12.4">采取现场培训为主，定期评估测试考核，加以</tspan><tspan x="5.5" dy="12.4">具体指导和教育，从而不断提高员工的业务技</tspan><tspan x="5.5" dy="12.4">能，让前厅部的员工都能符合酒店用人的标准</tspan><tspan x="5.5" dy="12.4">。</tspan></text></g>
<g id="l2" transform="translate(553.3,943)"><rect class="b" width="86.7" height="22.6" rx="5"/><text class="t" y="15.1"><tspan x="5.5">二、注重培训工作</tspan></text></g>
<g id="l2a" transform="translate(327.7,899.5)"><rect class="b" width="203.3" height="108.5" rx="5"/><text class="t" y="15.2"><tspan x="5.5">前厅部作为酒店的门面，每个员工都要直接的</tspan><tspan x="5.5" dy="12.4">面对客人，员工的态度和服务质量反应出酒店</tspan><tspan x="5.5" dy="12.4">的服务水准和管理水平，因此对员工的培训工</tspan><tspan x="5.5" dy="12.4">作是重中之重，针对前厅部需制定一套详细的</tspan><tspan x="5.5" dy="12.4">培训计划。有了良好的服务技能，纯熟的业务</tspan><tspan x="5.5" dy="12.4">知识，才能提供优质高效、快捷的服务。只有</tspan><tspan x="5.5" dy="12.4">培训好了员工，员工才有过硬的本领去为客人</tspan><tspan x="5.5" dy="12.4">提供优质的服务。</tspan></text></g>
<g id="l3" transform="translate(495,1061)"><rect class="b" width="145" height="22" rx="5"/><text class="t" y="14.9"><tspan x="5.5">三、加强员工的推销意识和技巧</tspan></text></g>
<g id="l3a" transform="translate(269.5,1029.3)"><rect class="b" width="203.8" height="84.4" rx="5"/><text class="t" y="15.2"><tspan x="5.5">前厅部员工，特别是总台员工必须掌握总台推</tspan><tspan x="5.5" dy="12.4">销艺术与技巧。把握客人的特点，根据客人不</tspan><tspan x="5.5" dy="12.4">同的要求，进行有针对性的销售，将最合适的</tspan><tspan x="5.5" dy="12.4">客房推荐给最需要的客人，做到事半功倍的</tspan><tspan x="5.5" dy="12.4">效果。努力提高入住率的同时，争取利益最大</tspan><tspan x="5.5" dy="12.4">化。</tspan></text></g>
<g id="l4" transform="translate(525,1178.9)"><rect class="b" width="115" height="21.1" rx="5"/><text class="t" y="14.6"><tspan x="5.5">四、开源节流、增收节支</tspan></text></g>
<g id="l4a" transform="translate(298.7,1135)"><rect class="b" width="203.6" height="108.5" rx="5"/><text class="t" y="15.2"><tspan x="5.5">为了保护环境，走可持续发展道路，"开源节</tspan><tspan x="5.5" dy="12.4">流、增收节支"是每个酒店不失的追求，前厅</tspan><tspan x="5.5" dy="12.4">部员工也应积极响应低碳经营，控制成本，开</tspan><tspan x="5.5" dy="12.4">展节约、节支的活动，既迎合顾客的绿色需求</tspan><tspan x="5.5" dy="12.4">，也可以为酒店创造经济效益，可谓一举两得</tspan><tspan x="5.5" dy="12.4">。可以从平时生活中的点点滴滴做起，随手关</tspan><tspan x="5.5" dy="12.4">紧水龙头，随手关掉不必要的电源开关，将用</tspan><tspan x="5.5" dy="12.4">过一面的A4纸反面进行重复利用等等。</tspan></text></g>
<g id="l5" transform="translate(437.3,1308.6)"><rect class="b" width="202.7" height="21.4" rx="5"/><text class="t" y="14.8"><tspan x="5.5">五、关注和采纳客人的意见，倡导个性化服务</tspan></text></g>
<g id="l5a" transform="translate(211,1264.8)"><rect class="b" width="204" height="108.5" rx="5"/><text class="t" y="15.2"><tspan x="5.5">认真听取客人的意见，重视客人的投诉。客人</tspan><tspan x="5.5" dy="12.4">的意见是酒店获取信息的重要渠道和改善经营</tspan><tspan x="5.5" dy="12.4">管理的重要依据，广泛听取和征求客人的意见</tspan><tspan x="5.5" dy="12.4">，并要及时进行反映和报告，并采取积极的态</tspan><tspan x="5.5" dy="12.4">度去处理问题，要求我们的服务能最大化得到</tspan><tspan x="5.5" dy="12.4">客人的满意，提供个性化服务，以此吸引客人</tspan><tspan x="5.5" dy="12.4">，提高客人对酒店的满意度并争取更多的回头</tspan><tspan x="5.5" dy="12.4">客。</tspan></text></g>
<g id="l6" transform="translate(485.7,1438.4)"><rect class="b" width="154.3" height="22.2" rx="5"/><text class="t" y="15"><tspan x="5.5">六、注重与各部门之间的协调工作</tspan></text></g>
<g id="l6a" transform="translate(259.3,1395)"><rect class="b" width="204" height="108.6" rx="5"/><text class="t" y="15.2"><tspan x="5.5">酒店就像一个大家庭，前厅部是整个酒店的神</tspan><tspan x="5.5" dy="12.4">经中枢部门，它同餐饮、销售、客房等部门都</tspan><tspan x="5.5" dy="12.4">有着紧密的工作联系，如出现问题，我们都要</tspan><tspan x="5.5" dy="12.4">应及时和相关部门进行协调解决，避免事情的</tspan><tspan x="5.5" dy="12.4">扩大，因为大家的共同目的都是为了酒店，不</tspan><tspan x="5.5" dy="12.4">能及时处理好将对酒店带来一定的负面影响。</tspan><tspan x="5.5" dy="12.4">因此加强与部门之间工作联系、信息沟通、团</tspan><tspan x="5.5" dy="12.4">结协作非常重要。</tspan></text></g>
<g id="l7" transform="translate(572.7,1920.4)"><rect class="b" width="67.3" height="22.2" rx="5"/><text class="t" y="15"><tspan x="5.5">七、具体工作</tspan></text></g>
<g id="l7-10" transform="translate(501.7,1608.9)"><rect class="b" width="49" height="20.6" rx="5"/><text class="t" y="14.4"><tspan x="5.5">十月份：</tspan></text></g>
<g id="l7-10a" transform="translate(276.7,1525.2)"><rect class="b" width="203.3" height="33.5" rx="5"/><text class="t" y="15"><tspan x="5.5">1.全力以赴做好十一黄金周的接待工作，争取</tspan><tspan x="5.5" dy="12.4">为酒店创造利益最大化。</tspan></text></g>
<g id="l7-10b" transform="translate(276.7,1581)"><rect class="b" width="203.3" height="57.8" rx="5"/><text class="t" y="15"><tspan x="5.5">2.15日，对五一黄金周期间，前厅部接待任务</tspan><tspan x="5.5" dy="12.4">完成过程中存在的问题、服务中体现出的优点</tspan><tspan x="5.5" dy="12.4">进行总结和分析，议会的形式进行讨论，并作</tspan><tspan x="5.5" dy="12.4">详细记录作为实际案例进行学习。</tspan></text></g>
<g id="l7-10c" transform="translate(276.7,1660.5)"><rect class="b" width="203.3" height="71.3" rx="5"/><text class="t" y="15"><tspan x="5.5">3.以上计划实施目的是为了提高前厅部总体接</tspan><tspan x="5.5" dy="12.4">待能力，再为酒店创造利益的同时也将消防安</tspan><tspan x="5.5" dy="12.4">全防范意识强化。计划目标是将前厅部接待能</tspan><tspan x="5.5" dy="12.4">力提高到一个新的阶段，消防安全意识深入人</tspan><tspan x="5.5" dy="12.4">心。</tspan></text></g>
<g id="l7-11" transform="translate(492.3,1886.8)"><rect class="b" width="58.4" height="20.7" rx="5"/><text class="t" y="14.4"><tspan x="5.5">十一月份：</tspan></text></g>
<g id="l7-11a" transform="translate(266.7,1753.5)"><rect class="b" width="204" height="71.3" rx="5"/><text class="t" y="15"><tspan x="5.5">1.根据员工的兴趣爱好，计划在8日举行一个"</tspan><tspan x="5.5" dy="12.4">野外拓展"的活动，主要是为了增进员工之间</tspan><tspan x="5.5" dy="12.4">的沟通与交流。加强员工之间的凝聚力。同时</tspan><tspan x="5.5" dy="12.4">为营造一个和谐、积极的工作团体，多组织一</tspan><tspan x="5.5" dy="12.4">些有意义的部门活动，来提高团队的凝聚力。</tspan></text></g>
<g id="l7-11b" transform="translate(266.7,1845.5)"><rect class="b" width="204" height="34.5" rx="5"/><text class="t" y="15"><tspan x="5.5">2.协助市场营销部做好团队接待、散客预订接</tspan><tspan x="5.5" dy="12.4">待工作。</tspan></text></g>
<g id="l7-11c" transform="translate(266.7,1901.2)"><rect class="b" width="204" height="33.6" rx="5"/><text class="t" y="15"><tspan x="5.5">3.进一步加强前厅部员工的强化培训，增强对</tspan><tspan x="5.5" dy="12.4">总台员工工作的监督指导。</tspan></text></g>
<g id="l7-11d" transform="translate(266.7,1956.5)"><rect class="b" width="204" height="96.6" rx="5"/><text class="t" y="15"><tspan x="5.5">4.以上计划实施的目的是利用酒店淡季空闲，</tspan><tspan x="5.5" dy="12.4">对总台工作做出相应调整，查缺补漏，及时弥</tspan><tspan x="5.5" dy="12.4">补，为之后旺季作准备。所需达到的目标是，</tspan><tspan x="5.5" dy="12.4">总台所有员工都可以保证以饱满的精神状态进</tspan><tspan x="5.5" dy="12.4">行工作、不带着情绪上班、同事关系良好、沟</tspan><tspan x="5.5" dy="12.4">通顺畅、注意力集中、错误和失误率在2%以</tspan><tspan x="5.5" dy="12.4">下。</tspan></text></g>
<g id="l7-12" transform="translate(492.3,2232.9)"><rect class="b" width="58.4" height="20.7" rx="5"/><text class="t" y="14.4"><tspan x="5.5">十二月份：</tspan></text></g>
<g id="l7-12a" transform="translate(266.7,2074.3)"><rect class="b" width="204" height="171.5" rx="5"/><text class="t" y="15"><tspan x="5.5">1.计划在5日对全体部门员工进行一次"饭店对</tspan><tspan x="5.5" dy="12.4">客人的服务与责任"的相关内容培训，由于前</tspan><tspan x="5.5" dy="12.4">厅部员工处在第一线，都是正面同客人沟通、</tspan><tspan x="5.5" dy="12.4">服务。人都是情感动物，有时很容易因为语言</tspan><tspan x="5.5" dy="12.4">的理解会让人产生误会的想法，如果在接待过</tspan><tspan x="5.5" dy="12.4">程中让客人产生误会的想法，素质稍好的客人</tspan><tspan x="5.5" dy="12.4">可能只是骂人，如果遇到部份素质较低的客人</tspan><tspan x="5.5" dy="12.4">可能会出现动手打人的现象，面对这一现象，</tspan><tspan x="5.5" dy="12.4">很多的员工都是很难把握，根据这一个工作需</tspan><tspan x="5.5" dy="12.4">要，所以将会对前厅部全体非当班的员工进行</tspan><tspan x="5.5" dy="12.4">"饭店对客人的服务与责任"的培训，主要的目</tspan><tspan x="5.5" dy="12.4">的是让员工能更明确自己的责任。进一步强化</tspan><tspan x="5.5" dy="12.4">销售员工培训、提高员工素质、业务水平。</tspan></text></g>
<g id="l7-12b" transform="translate(267.4,2297.2)"><rect class="b" width="202.8" height="59.2" rx="5"/><text class="t" y="15"><tspan x="5.5">2.15日邀请客房部召开协商沟通交流分析会，</tspan><tspan x="5.5" dy="12.4">做好部门之间的沟通，处理好工作中的矛盾，</tspan><tspan x="5.5" dy="12.4">并收集客人意见，同时研究客人的需求及消费</tspan><tspan x="5.5" dy="12.4">心理，提高前台销售技巧能力。</tspan></text></g>
<g id="l7-12b1" transform="translate(42,2266.2)"><rect class="b" width="202.8" height="59.2" rx="5"/><text class="t" y="15"><tspan x="5.5">以上计划实施目的是为了进一步提高前厅部员</tspan><tspan x="5.5" dy="12.4">工语言沟通能力，并充分了解和掌握宾客心理</tspan><tspan x="5.5" dy="12.4">变化，以便更好的对客服务。计划目标是使前</tspan><tspan x="5.5" dy="12.4">厅部员工对宾客消费心里有一定的了解。</tspan></text></g>
<g id="p4" transform="translate(66.9,2346.8)"><rect class="b" width="177.9" height="21.7" rx="5"/><text class="t" y="14.8"><tspan x="5.5">2020酒店第四季度工作计划范文（四）</tspan></text></g>
<g id="l8" transform="translate(553.2,2470.8)"><rect class="b" width="87" height="22" rx="5"/><text class="t" y="14.9"><tspan x="5.5">一、保安全促经营</tspan></text></g>
<g id="l8a" transform="translate(327.9,2389.5)"><rect class="b" width="203.2" height="183.9" rx="5"/><text class="t" y="15.2"><tspan x="5.5">在当前形势下，为了保证酒店的各项工作能正</tspan><tspan x="5.5" dy="12.4">常进行，经营不受任何政策性的影响，酒店将</tspan><tspan x="5.5" dy="12.4">严格按照要求，要求前台接待处做好登记关、</tspan><tspan x="5.5" dy="12.4">上传关，按照市公安局及辖区派出所的规定对</tspan><tspan x="5.5" dy="12.4">每位入住的客人进行入住登记，并将资料输入</tspan><tspan x="5.5" dy="12.4">电脑，认真执行公安局下发的其他各项通知。</tspan><tspan x="5.5" dy="12.4">其次，再对全员强化各项安全应急知识的培训</tspan><tspan x="5.5" dy="12.4">，做到外松内紧，不给客人带来任何感官上的</tspan><tspan x="5.5" dy="12.4">紧张感和不安全感；在食品安全上，出台了一</tspan><tspan x="5.5" dy="12.4">系列的安全卫生要求和规定以及有关食品卫生</tspan><tspan x="5.5" dy="12.4">安全的应急程序，有力保证不发生一起中毒事</tspan><tspan x="5.5" dy="12.4">件；在治安方面，夜间增岗添兵，增加巡查次</tspan><tspan x="5.5" dy="12.4">数，对可疑人、可疑物做到详细询问登记制度</tspan><tspan x="5.5" dy="12.4">。</tspan></text></g>
<g id="l9" transform="translate(544.1,2688.1)"><rect class="b" width="96" height="21.3" rx="5"/><text class="t" y="14.7"><tspan x="5.5">二、抓培训，提素质</tspan></text></g>
<g id="l9a" transform="translate(318.8,2594)"><rect class="b" width="202.8" height="208" rx="5"/><text class="t" y="15.2"><tspan x="5.5">业务知识与服务技巧是体现一个酒店的管理水</tspan><tspan x="5.5" dy="12.4">平，要想将业务知识与服务技巧保持在一个基</tspan><tspan x="5.5" dy="12.4">础之上，如果培训工作不跟上，新老员工的更</tspan><tspan x="5.5" dy="12.4">新又快，将很容易导致员工对工作缺乏热情与</tspan><tspan x="5.5" dy="12.4">业务水平松懈，特别是对一个经营六年的企业</tspan><tspan x="5.5" dy="12.4">会直接影响到品牌。四季度的员工培训将是以</tspan><tspan x="5.5" dy="12.4">总公司及酒店的发展和岗位需求为目标，提高</tspan><tspan x="5.5" dy="12.4">员工认识培训工作的重要性，积极引导员工自</tspan><tspan x="5.5" dy="12.4">觉学习，磨砺技能，增强竞争岗位投身下一步</tspan><tspan x="5.5" dy="12.4">企业各项改革的自信心。培养一支服务优质、</tspan><tspan x="5.5" dy="12.4">技能有特色的高素质员工队伍，稳固企业在秦</tspan><tspan x="5.5" dy="12.4">皇岛市场中的良好口碑和社会效益。达到从标</tspan><tspan x="5.5" dy="12.4">准化服务到人性化服务再到感动性服务的逐步</tspan><tspan x="5.5" dy="12.4">升华。也为此，酒店将计划每月进行必要的一</tspan><tspan x="5.5" dy="12.4">次培训，培训方式主要是偏向授课与现场模拟</tspan><tspan x="5.5" dy="12.4">方法。</tspan></text></g>
<g id="l10" transform="translate(456.7,3038.7)"><rect class="b" width="184" height="21.3" rx="5"/><text class="t" y="14.7"><tspan x="5.5">三、开源节流，降低成本，提高人均消费</tspan></text></g>
<g id="l10a" transform="translate(231,2823.3)"><rect class="b" width="203" height="159.4" rx="5"/><text class="t" y="15.2"><tspan x="5.5">节能降耗是酒店一直在宣传的口号和狠抓落实</tspan><tspan x="5.5" dy="12.4">的日常工作，上半年各项能耗与去年同期比都</tspan><tspan x="5.5" dy="12.4">有所下降和节约，三季度按照付总讲话精神，</tspan><tspan x="5.5" dy="12.4">管理将更细化，在"节能降耗"的基础上企业提</tspan><tspan x="5.5" dy="12.4">出了"挖潜降耗"的口号，既是如何在现有做了</tspan><tspan x="5.5" dy="12.4">六年的"节能降耗"基础上再努力，寻找、挖掘</tspan><tspan x="5.5" dy="12.4">各环节各程序，使各类能源在保证经营的基础</tspan><tspan x="5.5" dy="12.4">上再"降"一点。酒店下一步将在各区域点位安</tspan><tspan x="5.5" dy="12.4">装终端计量表，如水龙头端安装水表、各区域</tspan><tspan x="5.5" dy="12.4">安装电表以及与邮政分清各自费用区域。同时</tspan><tspan x="5.5" dy="12.4">对空调的开关控制、办公室用电都将再次进行</tspan><tspan x="5.5" dy="12.4">合理的调整与规划。</tspan></text></g>
<g id="l10b" transform="translate(231,3004)"><rect class="b" width="203" height="133.3" rx="5"/><text class="t" y="15.2"><tspan x="5.5">其次，酒店将根据物价上涨指数和对同行业调</tspan><tspan x="5.5" dy="12.4">查、了解，及时、随时的对产品（房、餐）进</tspan><tspan x="5.5" dy="12.4">行价格浮动，使企业更能灵活的掌握市场动态</tspan><tspan x="5.5" dy="12.4">和提高业绩，不错过机会；还有酒店在具体分</tspan><tspan x="5.5" dy="12.4">工上将各区域所使用的设备要求到各部门，各</tspan><tspan x="5.5" dy="12.4">部门又要求到班组或个人负责。服务员及管理</tspan><tspan x="5.5" dy="12.4">人员在正常服务和管理过程中，应随时注意检</tspan><tspan x="5.5" dy="12.4">查设备使用情况，配合工程部对设备保养、维</tspan><tspan x="5.5" dy="12.4">修，更好的正确的操作设备。还要求管理人员</tspan><tspan x="5.5" dy="12.4">要定期汇报设备情况。</tspan></text></g>
<g id="l10c" transform="translate(231,3159.3)"><rect class="b" width="203" height="70.7" rx="5"/><text class="t" y="15.2"><tspan x="5.5">客房方面，各种供客人使用的物品在保证服务</tspan><tspan x="5.5" dy="12.4">质量和数量的前提下，要求尽量延长布草的使</tspan><tspan x="5.5" dy="12.4">用寿命，同时，控制好低值易耗品的领用，建</tspan><tspan x="5.5" dy="12.4">立发放和消耗记录，实行节约有奖，浪费受罚</tspan><tspan x="5.5" dy="12.4">的奖惩制度。</tspan></text></g>
<g id="l11" transform="translate(505,3289)"><rect class="b" width="135" height="22" rx="5"/><text class="t" y="14.9"><tspan x="5.5">四、坚持创新，培养创新意识</tspan></text></g>
<g id="l11a" transform="translate(279.3,3251.7)"><rect class="b" width="203.4" height="96.6" rx="5"/><text class="t" y="15.2"><tspan x="5.5">创新是酒店生存的动力和灵魂，有创新才有活</tspan><tspan x="5.5" dy="12.4">力和生机，有创新才能感受到酒店成长的乐趣</tspan><tspan x="5.5" dy="12.4">，在目前对酒店产品、营销手段大胆创新的基</tspan><tspan x="5.5" dy="12.4">础上，在新的市场形势下，将再大力培养全员</tspan><tspan x="5.5" dy="12.4">的创新意识，鼓励员工积极参与创新活动，</tspan><tspan x="5.5" dy="12.4">使酒店在竞争中不断创新，不断发展，</tspan><tspan x="5.5" dy="12.4">创造更好的经济效益。</tspan></text></g>
</svg>
